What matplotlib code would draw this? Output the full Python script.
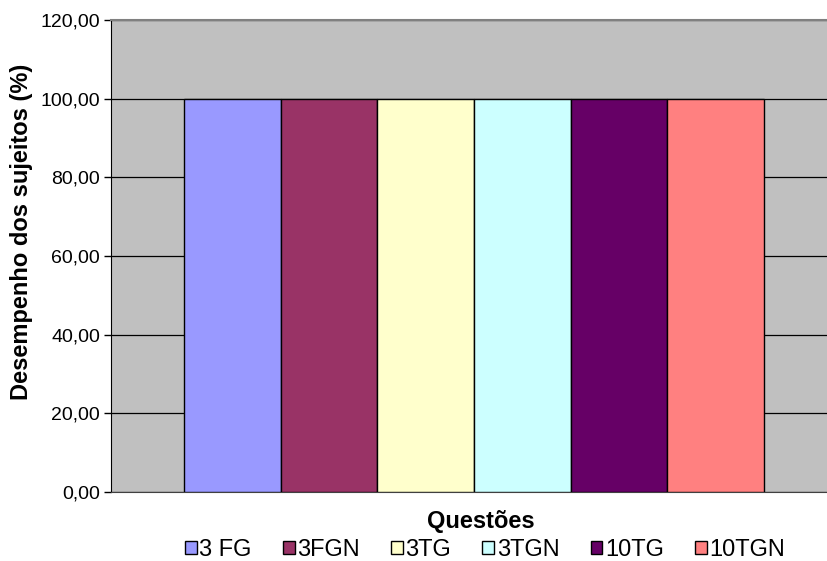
import matplotlib.pyplot as plt
from matplotlib.ticker import FuncFormatter

plt.rcParams["font.family"] = ["Liberation Sans", "DejaVu Sans"]

questoes = ["3 FG", "3FGN", "3TG", "3TGN", "10TG", "10TGN"]
desempenho = [100, 100, 100, 100, 100, 100]
cores = ["#9999FF", "#993366", "#FFFFCC", "#CCFFFF", "#660066", "#FF8080"]
yticks = [0, 20, 40, 60, 80, 100, 120]

fig = plt.figure(figsize=(8.27, 5.61), dpi=100)
ax = fig.add_axes([111 / 827, 69 / 561, 726 / 827, 472 / 561])
ax.set_facecolor("#C0C0C0")

largura = 1.0
for i, (q, v, c) in enumerate(zip(questoes, desempenho, cores)):
    ax.bar(i, v, width=largura, color=c, edgecolor="black", linewidth=1.0,
           label=q, zorder=3)

gap = 73 / 96.7
ax.set_xlim(-0.5 - gap, len(questoes) - 0.5 + gap)
ax.set_ylim(0, 120)
ax.set_yticks(yticks)
ax.yaxis.set_major_formatter(FuncFormatter(lambda v, p: f"{v:.2f}".replace(".", ",")))
ax.grid(axis="y", color="black", linewidth=0.9, zorder=1)
ax.set_xticks([])
ax.tick_params(axis="y", labelsize=14, length=5, width=1, pad=3)

for s in ["top", "right"]:
    ax.spines[s].set_color("#808080")
    ax.spines[s].set_linewidth(1.5)
ax.spines["left"].set_color("black")
ax.spines["bottom"].set_color("#404040")

ax.set_ylabel("Desempenho dos sujeitos (%)", fontsize=17, fontweight="bold")
ax.yaxis.set_label_coords(-78 / 726, (492 - 232) / 472)
ax.set_xlabel("Questões", fontsize=17, fontweight="bold")
ax.xaxis.set_label_coords((481 - 111) / 726, -18 / 472)

ax.legend(loc="center", bbox_to_anchor=((485 - 111) / 726, -58 / 472), ncol=6,
          frameon=False, fontsize=17, handlelength=0.5, handleheight=0.5,
          handletextpad=0.1, columnspacing=1.33, borderaxespad=0)

fig.savefig("out.png", dpi=100)
